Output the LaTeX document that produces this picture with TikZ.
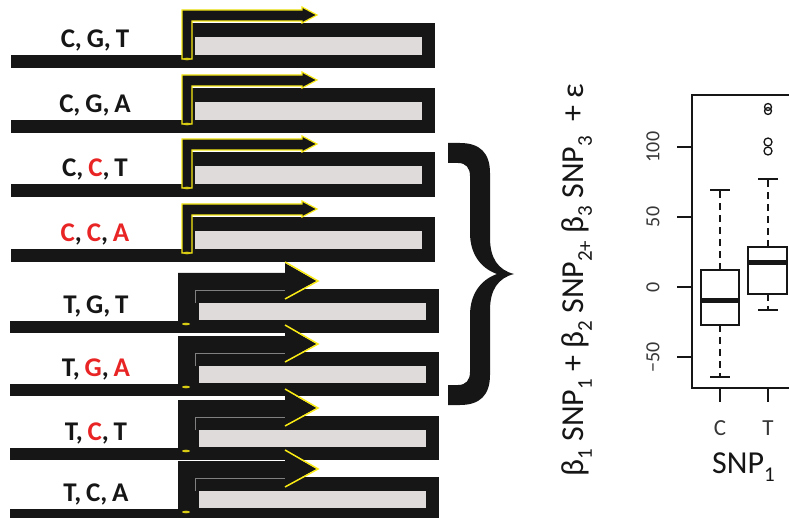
\documentclass[tikz,border=0pt]{standalone}
\usepackage{fontspec}
\setmainfont{Carlito}
\newfontfamily\allelefont[WordSpace=0.8]{Carlito}
\definecolor{ink}{RGB}{22,22,22}
\definecolor{genefill}{RGB}{223,219,219}
\definecolor{snpred}{RGB}{232,36,36}
\definecolor{glow}{RGB}{250,235,20}
\definecolor{axisgray}{RGB}{55,55,55}
\newcommand{\rd}[1]{\textcolor{snpred}{#1}}
\newcommand{\sbs}[1]{\raisebox{-0.28em}{\fontsize{21}{21}\selectfont #1}}
\tikzset{
  allele/.style={font=\allelefont\bfseries\fontsize{27}{27}\selectfont, text=ink, anchor=base, inner sep=0pt},
  plotline/.style={line width=1.8pt, draw=ink},
  whisk/.style={line width=1.8pt, draw=ink, dash pattern=on 7pt off 5pt},
  tlabel/.style={font=\fontsize{20}{20}\selectfont, text=axisgray, inner sep=0pt},
}
% gene with a thin promoter arrow (first argument = bottom of the DNA strand)
\newcommand{\thingene}[3]{%
  \fill[ink] (11,#1-13) rectangle (435,#1);
  \fill[ink] (186,#1-45) rectangle (435,#1);
  \fill[genefill] (195,#1-31) rectangle (422,#1-13);
  \filldraw[fill=ink, draw=glow, line width=1.2pt, line join=miter]
    (182,#1-9) -- (182,#1-58) -- (302,#1-58) -- (302,#1-61) -- (317,#1-53)
    -- (302,#1-45) -- (302,#1-47) -- (192,#1-47) -- (192,#1-9) -- cycle;
  \fill[glow!85!ink] (187,#1-9) ellipse (4 and 1.3);
  \node[allele] (#2) at (95,#1-20) {#3};
}
% gene with a thick promoter arrow
\newcommand{\thickgene}[3]{%
  \fill[ink] (10,#1-12) rectangle (439,#1);
  \fill[ink] (190,#1-44) rectangle (439,#1);
  \fill[genefill] (199,#1-30) rectangle (426,#1-13);
  \fill[ink] (178,#1-8) -- (178,#1-60) -- (285,#1-60) -- (285,#1-70) -- (317,#1-52)
    -- (285,#1-35) -- (285,#1-43) -- (195,#1-43) -- (195,#1-8) -- cycle;
  \draw[black!50, line width=0.5pt] (195,#1-30) -- (195,#1-43) -- (285,#1-43);
  \draw[glow, line width=1.5pt, line join=miter] (285,#1-71) -- (318,#1-52) -- (285,#1-34);
  \fill[glow!85!ink] (186,#1-9) ellipse (4 and 1.3);
  \node[allele] (#2) at (96,#1-20) {#3};
}
\begin{document}
\begin{tikzpicture}[x=1pt, y=-1pt]
\useasboundingbox (0,0) rectangle (789,518);
\clip (0,0) rectangle (789,518);

% haplotype constructs
\thingene{68}{h1}{C, G, T}
\thingene{133}{h2}{C, G, A}
\thingene{197}{h3}{C, \rd{C}, T}
\thingene{262}{h4}{\rd{C}, \rd{C}, \rd{A}}
\thickgene{333}{h5}{T, G, T}
\thickgene{396}{h6}{T, \rd{G}, \rd{A}}
\thickgene{460}{h7}{T, \rd{C}, T}
\thickgene{521}{h8}{T, C, A}

% curly brace
\fill[ink] (448,143) -- (460,143) .. controls (480,143) and (490,153) .. (490,173)
  -- (490,238) .. controls (490,258) and (498,270) .. (514,274)
  .. controls (498,278) and (490,290) .. (490,310)
  -- (490,375) .. controls (490,395) and (480,405) .. (460,405)
  -- (448,405) -- (448,385) -- (458,385) .. controls (466,385) and (470,380) .. (470,372)
  -- (470,315) .. controls (470,295) and (480,280) .. (497,274)
  .. controls (480,268) and (470,253) .. (470,233)
  -- (470,176) .. controls (470,168) and (466,163) .. (458,163) -- (448,163) -- cycle;

% regression model
\node[rotate=90, anchor=base, inner sep=0pt, font=\fontsize{32}{32}\selectfont, text=ink] (model) at (583,280)
  {β\sbs{1} SNP\sbs{1} + β\sbs{2} SNP\sbs{2+} β\sbs{3} SNP\sbs{3}\ \ + ε};

% boxplot frame and axes
\draw[plotline] (800,95) -- (692,95) -- (692,388) -- (800,388);
\foreach \v/\lab in {100/100, 50/50, 0/0, -50/−50} {
  \draw[plotline] (677,287-1.4*\v) -- (692,287-1.4*\v);
  \node[tlabel, rotate=90] at (653,287-1.4*\v) {\lab};
}
\draw[plotline] (720,388) -- (720,402);
\draw[plotline] (768,388) -- (768,402);
\node[tlabel, font=\fontsize{23}{23}\selectfont] (xc) at (720,428) {C};
\node[tlabel, font=\fontsize{23}{23}\selectfont] (xt) at (768,428) {T};
\node[anchor=base west, inner sep=0pt, font=\fontsize{32}{32}\selectfont, text=ink] (xlab) at (712,473) {SNP\sbs{1}};

% box for C
\draw[whisk] (720,270) -- (720,190);
\draw[whisk] (720,325) -- (720,377);
\draw[plotline] (710,190) -- (730,190);
\draw[plotline] (710,377) -- (730,377);
\draw[plotline, fill=white] (701,270) rectangle (739,325);
\draw[ink, line width=5pt] (701,301) -- (739,301);

% box for T
\draw[whisk] (768,247) -- (768,179);
\draw[whisk] (768,294) -- (768,310);
\draw[plotline] (758,179) -- (778,179);
\draw[plotline] (758,310) -- (778,310);
\draw[plotline, fill=white] (748,247) rectangle (787,294);
\draw[ink, line width=5pt] (748,263) -- (787,263);
\foreach \yy/\r in {107/3.5, 111/3.5, 142/4, 151/4}
  \draw[ink, line width=1.3pt] (768,\yy) circle (\r);
\end{tikzpicture}
\end{document}
